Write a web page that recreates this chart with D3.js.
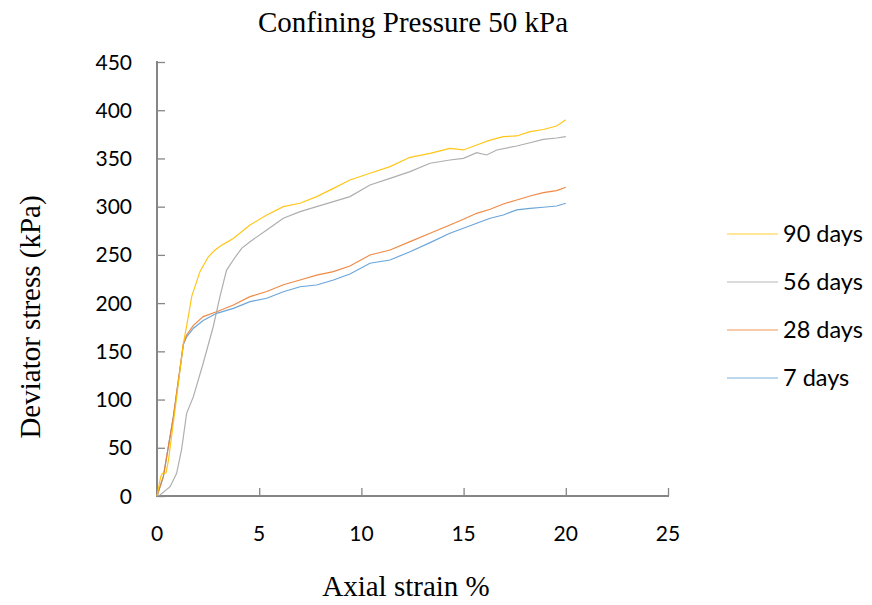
<!DOCTYPE html>
<html><head><meta charset="utf-8">
<script src="https://cdn.jsdelivr.net/npm/d3@7"></script>
<style>body{margin:0;background:#fff}svg{display:block}</style>
</head><body>
<script>
const seriesNames = ["90 days","56 days","28 days","7 days"];
const colors = ["#FFC000","#A5A5A5","#ED7D31","#5B9BD5"];
const xTicks = [0,5,10,15,20,25];
const yTicks = [0,50,100,150,200,250,300,350,400,450];

const strain90 = [0,0.18,0.27,0.44,0.56,0.88,1.29,1.53,1.7,2.1,2.51,2.84,3.16,3.49,3.73,4.55,5.37,6.18,7.0,7.81,8.63,9.44,10.42,11.4,12.38,13.36,14.33,14.99,15.64,16.3,16.94,17.6,18.25,18.9,19.55,20];
const stress90 = [0,20,23.5,24,37,89,158,186,207,232.6,248,255,260,264,267,281,291.4,300,303.5,310.4,319,327.7,334.6,341.5,351.2,355.3,360.5,358.8,364,369,372.6,373.3,377.8,380,383.6,390];

const strain56 = [0,0.15,0.64,0.96,1.2,1.45,1.78,2.26,2.75,3.08,3.4,3.73,4.14,4.55,5.37,6.18,7.0,7.81,8.63,9.44,10.42,11.4,12.38,13.36,14.33,14.99,15.64,16.13,16.62,17.6,18.25,18.9,19.55,20];
const stress56 = [0,1,9.6,23.5,47.7,85.7,103,137.6,175.5,206.7,234,244.7,256.8,263.7,275.8,288,294.8,300,305.2,310.4,322.5,329.4,336.3,345,348.4,350.1,356,353.6,358.8,362.9,366.3,369.8,371.2,372.6];

const strain28 = [0,0.31,0.8,1.29,1.45,1.78,2.26,2.92,3.74,4.55,5.37,6.18,7.0,7.81,8.63,9.44,10.42,11.4,12.38,13.36,14.33,14.99,15.64,16.3,16.94,17.6,18.25,18.9,19.55,20];
const stress28 = [0,20,82,158,167,177,186,191,198,206.7,212,219,224,229,232.6,238.5,249.9,255.1,263.7,272.4,281,286.9,293.1,297.3,302.8,306.9,311.1,314.5,316.6,320.1];

const strain7 = [0,0.31,0.8,1.29,1.45,1.78,2.26,2.92,3.74,4.55,5.37,6.18,7.0,7.81,8.63,9.44,10.42,11.4,12.38,13.36,14.33,14.99,15.64,16.3,16.94,17.6,18.25,18.9,19.55,20];
const stress7 = [0,20,82,157,165,174,182,189.4,194.6,201.5,205,211.8,217,218.8,224,230.2,241.3,244.7,253.3,262.7,272.4,277.6,282.8,288,291.4,296.6,298.3,299.4,300.7,303.5];

const allStrain = [strain90, strain56, strain28, strain7];
const allStress = [stress90, stress56, stress28, stress7];

const W = 872, H = 605;
const svg = d3.select("body").append("svg").attr("width", W).attr("height", H);

const x = d3.scaleLinear().domain([0,25]).range([157,668]);
const y = d3.scaleLinear().domain([0,450]).range([496,62]);

const axisColor = "#868686";
const tickFont = "Lato, 'Open Sans', sans-serif";

// Y axis
const gy = svg.append("g").attr("transform","translate(157,0)")
  .call(d3.axisRight(y).tickValues(yTicks).tickSize(8).tickFormat(""));
gy.select(".domain").attr("stroke",axisColor).attr("stroke-width",2).attr("d","M0,61V497");
gy.selectAll(".tick line").attr("stroke",axisColor).attr("stroke-width",1.3);

// X axis
const gx = svg.append("g").attr("transform","translate(0,496)")
  .call(d3.axisTop(x).tickValues(xTicks).tickSize(8).tickFormat(""));
gx.select(".domain").attr("stroke",axisColor).attr("stroke-width",2).attr("d","M156,0H669");
gx.selectAll(".tick line").attr("stroke",axisColor).attr("stroke-width",1.3);

// tick labels
svg.append("g").selectAll("text").data(yTicks).join("text")
  .attr("x",132).attr("y",d=>y(d)).attr("dy","0.36em")
  .attr("text-anchor","end").attr("font-family",tickFont).attr("font-size",21).attr("fill","#000")
  .text(d=>d);
svg.append("g").selectAll("text").data(xTicks).join("text")
  .attr("x",d=>x(d)).attr("y",541)
  .attr("text-anchor","middle").attr("font-family",tickFont).attr("font-size",21).attr("fill","#000")
  .text(d=>d);

// lines
const line = d3.line().x(d=>x(d[0])).y(d=>y(d[1]));
for (let i = 3; i >= 0; i--) {
  const pts = allStrain[i].map((s,j)=>[s, allStress[i][j]]);
  svg.append("path").datum(pts).attr("d",line)
    .attr("fill","none").attr("stroke",colors[i]).attr("stroke-width",1.2).attr("stroke-opacity",0.9);
}

// legend
const lg = svg.append("g");
seriesNames.forEach((n,i)=>{
  const yy = 234 + i*48;
  lg.append("line").attr("x1",727).attr("x2",778).attr("y1",yy).attr("y2",yy)
    .attr("stroke",colors[i]).attr("stroke-width",1.2).attr("stroke-opacity",0.8);
  lg.append("text").attr("x",783).attr("y",yy).attr("dy","0.36em")
    .attr("font-family",tickFont).attr("font-size",23.5).attr("fill","#000").text(n);
});

// titles
const serif = "'Liberation Serif','Times New Roman',serif";
svg.append("text").attr("x",413).attr("y",32).attr("text-anchor","middle")
  .attr("font-family",serif).attr("font-size",29).attr("fill","#000").text("Confining Pressure 50 kPa");
svg.append("text").attr("x",406).attr("y",596).attr("text-anchor","middle")
  .attr("font-family",serif).attr("font-size",29).attr("fill","#000").text("Axial strain %");
svg.append("text").attr("transform","translate(40,317) rotate(-90)").attr("text-anchor","middle")
  .attr("font-family",serif).attr("font-size",29).attr("fill","#000").text("Deviator stress (kPa)");
</script>
</body></html>
